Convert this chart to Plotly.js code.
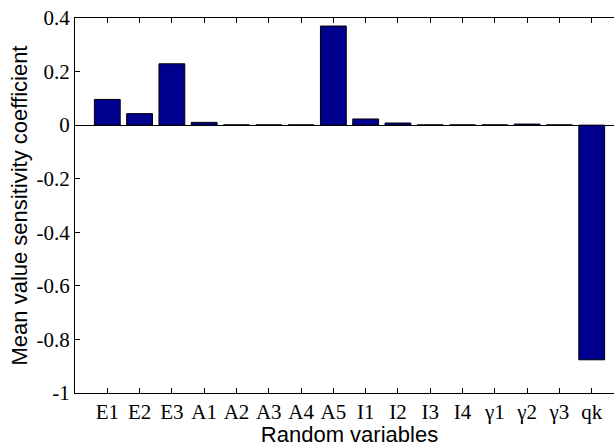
<!DOCTYPE html>
<html>
<head>
<meta charset="utf-8">
<script src="https://cdn.plot.ly/plotly-3.0.1.min.js"></script>
<style>
html,body{margin:0;padding:0;overflow:hidden;background:#fff;width:614px;height:447px;}
#chart{width:624px;height:447px;}
</style>
</head>
<body>
<div id="chart"></div>
<script>
const categories = ['E1','E2','E3','A1','A2','A3','A4','A5','I1','I2','I3','I4','γ1','γ2','γ3','qk'];
const values = [0.096, 0.043, 0.229, 0.0105, 0.001, 0.001, 0.001, 0.370, 0.023, 0.008, 0.001, 0.001, 0.001, 0.004, 0.001, -0.876];
const yTickVals = [-1, -0.8, -0.6, -0.4, -0.2, 0, 0.2, 0.4];
const yTickText = ['-1', '-0.8', '-0.6', '-0.4', '-0.2', '0', '0.2', '0.4'];

const trace = {
  type: 'bar',
  x: categories,
  y: values,
  marker: {color: '#00008f', line: {color: '#000000', width: 1}},
  hoverinfo: 'none'
};

const tickFont = {family: 'Liberation Serif', size: 21, color: '#000'};
const titleFont = {family: 'Liberation Sans', size: 22, color: '#000'};

const layout = {
  width: 624,
  height: 447,
  margin: {l: 75, r: 0, t: 18, b: 54, pad: 0},
  paper_bgcolor: '#fff',
  plot_bgcolor: '#fff',
  showlegend: false,
  bargap: 0.2,
  xaxis: {
    type: 'category',
    range: [-1, 16],
    showline: true, linecolor: '#000', linewidth: 1, mirror: 'ticks',
    ticks: 'inside', ticklen: 5, tickcolor: '#000',
    showgrid: false, zeroline: false,
    tickfont: tickFont,
    title: {text: 'Random variables', font: titleFont, standoff: 2},
    automargin: false
  },
  yaxis: {
    range: [-1, 0.4],
    tickvals: yTickVals, ticktext: yTickText,
    showline: true, linecolor: '#000', linewidth: 1, mirror: 'ticks',
    ticks: 'inside', ticklen: 5, tickcolor: '#000',
    showgrid: false,
    zeroline: true, zerolinecolor: '#000', zerolinewidth: 1,
    tickfont: tickFont,
    title: {text: 'Mean value sensitivity coefficient', font: titleFont, standoff: 2},
    automargin: false
  }
};

Plotly.newPlot('chart', [trace], layout, {displayModeBar: false, staticPlot: true});
</script>
</body>
</html>
